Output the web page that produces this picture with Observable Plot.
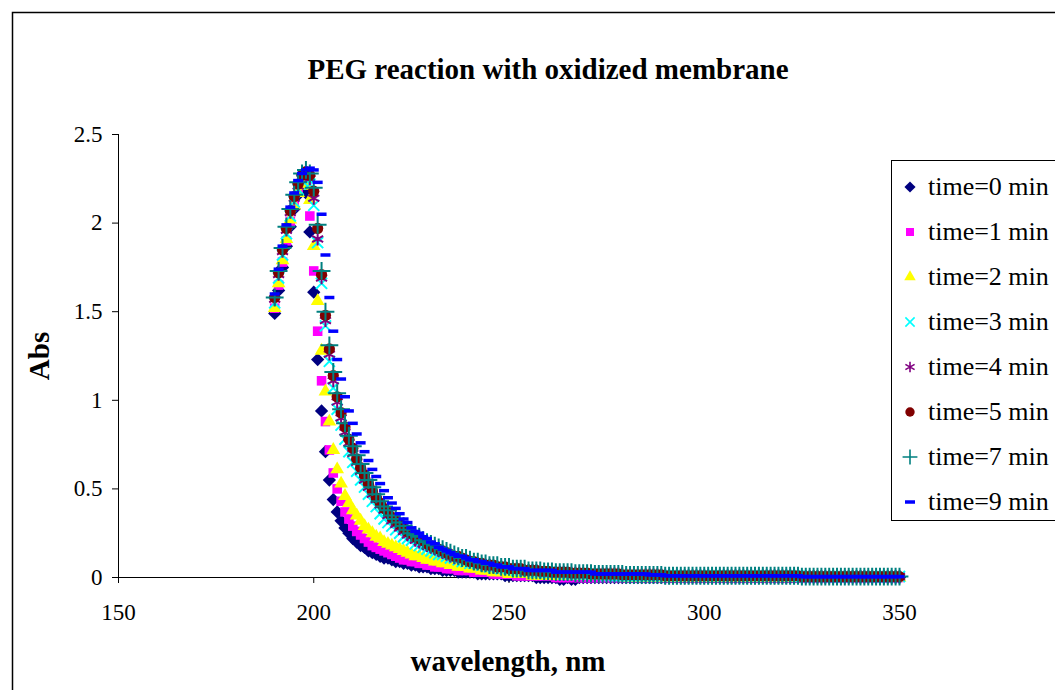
<!DOCTYPE html>
<html><head><meta charset="utf-8">
<script src="https://cdn.jsdelivr.net/npm/d3@7"></script>
<script src="https://cdn.jsdelivr.net/npm/@observablehq/plot@0.6"></script>
<style>body{margin:0;background:#fff;} svg{display:block}</style>
</head><body><div id="chart"></div>
<script>
const wavelengths = [
190,191,192,193,194,195,196,197,198,199,
200,201,202,203,204,205,206,207,208,209,
210,211,212,213,214,215,216,217,218,219,
220,221,222,223,224,225,226,227,228,229,
230,231,232,233,234,235,236,237,238,239,
240,241,242,243,244,245,246,247,248,249,
250,251,252,253,254,255,256,257,258,259,
260,261,262,263,264,265,266,267,268,269,
270,271,272,273,274,275,276,277,278,279,
280,281,282,283,284,285,286,287,288,289,
290,291,292,293,294,295,296,297,298,299,
300,301,302,303,304,305,306,307,308,309,
310,311,312,313,314,315,316,317,318,319,
320,321,322,323,324,325,326,327,328,329,
330,331,332,333,334,335,336,337,338,339,
340,341,342,343,344,345,346,347,348,349,
350];

const t0 = [
1.49,1.62,1.75,1.87,1.98,2.08,2.16,2.22,2.17,1.95,
1.61,1.23,0.94,0.71,0.55,0.44,0.37,0.32,0.28,0.25,
0.22,0.20,0.18,0.17,0.15,0.14,0.13,0.12,0.11,0.11,
0.10,0.09,0.09,0.08,0.08,0.07,0.07,0.06,0.06,0.06,
0.05,0.05,0.05,0.04,0.04,0.04,0.04,0.03,0.03,0.03,
0.03,0.03,0.02,0.02,0.02,0.02,0.02,0.02,0.02,0.01,
0.01,0.01,0.01,0.01,0.01,0.01,0.01,0,0,0,
0,0,0,-0.01,-0.01,0,-0.01,-0.01,0,0,
0,0,0,0,0,0,0,0,0,0,
0,0,0,0,0,0,0,0,0,0,
0,0,0,0,0,0,0,0,0,0,
0,0,0,0,0,0,0,0,0,0,
0,0,0,0,0,0,0,0,0,0,
0,0,0,0,0,0,0,0,0,0,
0,0,0,0,0,0,0,0,0,0,
0,0,0,0,0,0,0,0,0,0,
0];

const t1 = [
1.52,1.65,1.78,1.90,2.01,2.10,2.18,2.24,2.25,2.04,
1.73,1.39,1.11,0.88,0.72,0.59,0.50,0.43,0.37,0.33,
0.29,0.26,0.24,0.22,0.20,0.18,0.17,0.16,0.15,0.14,
0.13,0.12,0.11,0.10,0.10,0.09,0.09,0.08,0.08,0.07,
0.07,0.06,0.06,0.06,0.05,0.05,0.05,0.04,0.04,0.04,
0.04,0.03,0.03,0.03,0.03,0.03,0.02,0.02,0.02,0.02,
0.02,0.02,0.01,0.01,0.01,0.01,0.01,0.01,0.01,0.01,
0.01,0.01,0,0,0,0,0,0,0,0,
0,0,0,0,0,0,0,0,0,0,
0,0,0,0,0,0,0,0,0,0,
0,0,0,0,0,0,0,0,0,0,
0,0,0,0,0,0,0,0,0,0,
0,0,0,0,0,0,0,0,0,0,
0,0,0,0,0,0,0,0,0,0,
0,0,0,0,0,0,0,0,0,0,
0,0,0,0,0,0,0,0,0,0,
0];

const t2 = [
1.52,1.66,1.79,1.91,2.02,2.10,2.17,2.21,2.22,2.13,
1.87,1.56,1.28,1.05,0.88,0.72,0.61,0.53,0.46,0.42,
0.38,0.35,0.32,0.29,0.27,0.25,0.23,0.22,0.20,0.19,
0.18,0.17,0.16,0.15,0.14,0.13,0.12,0.12,0.11,0.10,
0.10,0.09,0.09,0.08,0.08,0.07,0.07,0.06,0.06,0.06,
0.05,0.05,0.05,0.04,0.04,0.04,0.03,0.03,0.03,0.03,
0.02,0.02,0.02,0.02,0.02,0.02,0.01,0.01,0.01,0.01,
0.01,0.01,0.01,0.01,0.01,0.01,0.01,0.01,0.01,0.01,
0.01,0.01,0.01,0.01,0.01,0.01,0.01,0.01,0.01,0.01,
0,0,0,0,0,0,0,0,0,0,
0,0,0,0,0,0,0,0,0,0,
0,0,0,0,0,0,0,0,0,0,
0,0,0,0,0,0,0,0,0,0,
0,0,0,0,0,0,0,0,0,0,
0,0,0,0,0,0,0,0,0,0,
0,0,0,0,0,0,0,0,0,0,
0];

const t3 = [
1.55,1.69,1.82,1.94,2.04,2.12,2.19,2.24,2.26,2.22,
2.10,1.89,1.66,1.42,1.22,1.07,0.95,0.86,0.78,0.71,
0.65,0.60,0.55,0.51,0.47,0.43,0.40,0.36,0.33,0.31,
0.29,0.27,0.25,0.23,0.22,0.21,0.19,0.18,0.17,0.16,
0.15,0.14,0.13,0.13,0.12,0.11,0.11,0.10,0.09,0.09,
0.08,0.08,0.08,0.07,0.07,0.06,0.06,0.06,0.05,0.05,
0.05,0.05,0.04,0.04,0.04,0.04,0.04,0.03,0.03,0.03,
0.03,0.03,0.03,0.03,0.02,0.02,0.02,0.02,0.02,0.02,
0.02,0.02,0.02,0.02,0.02,0.01,0.01,0.01,0.01,0.01,
0.01,0.01,0.01,0.01,0.01,0.01,0.01,0.01,0.01,0.01,
0.01,0.01,0.01,0.01,0.01,0.01,0.01,0.01,0.01,0.01,
0.01,0.01,0.01,0.01,0.01,0.01,0.01,0.01,0.01,0.01,
0.01,0.01,0.01,0.01,0.01,0.01,0.01,0.01,0.01,0.01,
0.01,0.01,0.01,0.01,0.01,0.005,0.005,0.005,0.005,0.005,
0.005,0.005,0.005,0.005,0.005,0.005,0.005,0.005,0.005,0.005,
0.005,0.005,0.005,0.005,0.005,0.005,0.005,0.005,0.005,0.005,
0.005];

const t4 = [
1.57,1.71,1.84,1.96,2.06,2.14,2.21,2.26,2.28,2.25,
2.14,1.91,1.69,1.45,1.26,1.11,0.99,0.90,0.82,0.76,
0.70,0.65,0.60,0.55,0.51,0.47,0.44,0.41,0.38,0.35,
0.32,0.30,0.28,0.26,0.24,0.23,0.21,0.20,0.19,0.18,
0.17,0.16,0.15,0.14,0.13,0.12,0.11,0.11,0.10,0.10,
0.09,0.08,0.08,0.07,0.07,0.07,0.06,0.06,0.06,0.05,
0.05,0.05,0.05,0.04,0.04,0.04,0.04,0.04,0.03,0.03,
0.03,0.03,0.03,0.03,0.03,0.025,0.025,0.025,0.025,0.02,
0.02,0.02,0.02,0.02,0.02,0.02,0.02,0.02,0.02,0.02,
0.015,0.015,0.015,0.015,0.015,0.015,0.015,0.015,0.015,0.015,
0.01,0.01,0.01,0.01,0.01,0.01,0.01,0.01,0.01,0.01,
0.01,0.01,0.01,0.01,0.01,0.01,0.01,0.01,0.01,0.01,
0.01,0.01,0.01,0.01,0.01,0.01,0.01,0.01,0.01,0.01,
0.01,0.01,0.01,0.01,0.01,0.005,0.005,0.005,0.005,0.005,
0.005,0.005,0.005,0.005,0.005,0.005,0.005,0.005,0.005,0.005,
0.005,0.005,0.005,0.005,0.005,0.005,0.005,0.005,0.005,0.005,
0.005];

const t5 = [
1.58,1.72,1.85,1.97,2.07,2.15,2.22,2.27,2.29,2.27,
2.18,1.97,1.71,1.48,1.29,1.14,1.02,0.93,0.85,0.78,
0.73,0.67,0.62,0.58,0.53,0.49,0.45,0.42,0.39,0.37,
0.34,0.32,0.30,0.28,0.26,0.25,0.23,0.22,0.21,0.19,
0.18,0.17,0.16,0.15,0.14,0.13,0.12,0.12,0.11,0.10,
0.09,0.09,0.08,0.08,0.07,0.07,0.07,0.06,0.06,0.06,
0.05,0.05,0.05,0.05,0.04,0.04,0.04,0.04,0.035,0.035,
0.035,0.03,0.03,0.03,0.03,0.03,0.025,0.025,0.025,0.025,
0.025,0.02,0.02,0.02,0.02,0.02,0.02,0.02,0.02,0.015,
0.015,0.015,0.015,0.015,0.015,0.015,0.015,0.015,0.015,0.015,
0.01,0.01,0.01,0.01,0.01,0.01,0.01,0.01,0.01,0.01,
0.01,0.01,0.01,0.01,0.01,0.01,0.01,0.01,0.01,0.01,
0.01,0.01,0.01,0.01,0.01,0.01,0.01,0.01,0.01,0.01,
0.01,0.01,0.01,0.01,0.01,0.005,0.005,0.005,0.005,0.005,
0.005,0.005,0.005,0.005,0.005,0.005,0.005,0.005,0.005,0.005,
0.005,0.005,0.005,0.005,0.005,0.005,0.005,0.005,0.005,0.005,
0.005];

const t7 = [
1.58,1.73,1.86,1.98,2.08,2.16,2.23,2.28,2.30,2.28,
2.20,1.99,1.73,1.50,1.31,1.16,1.04,0.95,0.87,0.80,
0.74,0.69,0.64,0.59,0.55,0.51,0.47,0.43,0.40,0.38,
0.35,0.33,0.31,0.29,0.27,0.25,0.24,0.23,0.21,0.20,
0.19,0.18,0.17,0.16,0.15,0.14,0.13,0.12,0.11,0.11,
0.10,0.09,0.09,0.08,0.08,0.07,0.07,0.07,0.06,0.06,
0.06,0.05,0.05,0.05,0.05,0.04,0.04,0.04,0.04,0.035,
0.035,0.035,0.03,0.03,0.03,0.03,0.03,0.025,0.025,0.025,
0.025,0.025,0.02,0.02,0.02,0.02,0.02,0.02,0.02,0.02,
0.015,0.015,0.015,0.015,0.015,0.015,0.015,0.015,0.015,0.015,
0.01,0.01,0.01,0.01,0.01,0.01,0.01,0.01,0.01,0.01,
0.01,0.01,0.01,0.01,0.01,0.01,0.01,0.01,0.01,0.01,
0.01,0.01,0.01,0.01,0.01,0.01,0.01,0.01,0.01,0.01,
0.01,0.01,0.01,0.01,0.01,0.005,0.005,0.005,0.005,0.005,
0.005,0.005,0.005,0.005,0.005,0.005,0.005,0.005,0.005,0.005,
0.005,0.005,0.005,0.005,0.005,0.005,0.005,0.005,0.005,0.005,
0.005];

const t9 = [
1.60,1.74,1.87,1.99,2.09,2.17,2.24,2.28,2.30,2.31,
2.30,2.23,2.05,1.82,1.58,1.39,1.23,1.12,1.02,0.94,
0.87,0.81,0.76,0.71,0.66,0.61,0.57,0.53,0.49,0.45,
0.42,0.39,0.36,0.33,0.31,0.28,0.26,0.25,0.23,0.22,
0.20,0.19,0.17,0.16,0.15,0.14,0.13,0.12,0.12,0.11,
0.10,0.10,0.09,0.09,0.08,0.08,0.07,0.07,0.06,0.06,
0.06,0.05,0.05,0.05,0.05,0.04,0.04,0.04,0.04,0.04,
0.04,0.04,0.03,0.03,0.03,0.03,0.03,0.03,0.03,0.03,
0.03,0.03,0.02,0.02,0.02,0.02,0.02,0.02,0.02,0.02,
0.02,0.02,0.02,0.02,0.02,0.02,0.015,0.015,0.015,0.015,
0.01,0.01,0.01,0.01,0.01,0.01,0.01,0.01,0.01,0.01,
0.01,0.01,0.01,0.01,0.01,0.01,0.01,0.01,0.01,0.01,
0.01,0.01,0.01,0.01,0.01,0.01,0.01,0.01,0.01,0.01,
0.01,0.01,0.01,0.01,0.01,0.005,0.005,0.005,0.005,0.005,
0.005,0.005,0.005,0.005,0.005,0.005,0.005,0.005,0.005,0.005,
0.005,0.005,0.005,0.005,0.005,0.005,0.005,0.005,0.005,0.005,
0.005];

const seriesNames = ["time=0 min","time=1 min","time=2 min","time=3 min","time=4 min","time=5 min","time=7 min","time=9 min"];
const xTicks = [150, 200, 250, 300, 350];
const yTicks = [0, 0.5, 1, 1.5, 2, 2.5];
const titleText = "PEG reaction with oxidized membrane";
const xLabel = "wavelength, nm";
const yLabel = "Abs";

const dash = {draw(ctx, size) { ctx.rect(-5, -1.75, 10, 3.5); }};

const styles = [
  {values: t0, symbol: d3.symbolSquare, rotate: 45, r: 5.3, fill: "#000080", stroke: "none"},
  {values: t1, symbol: d3.symbolSquare, rotate: 0, r: 5.4, fill: "#FF00FF", stroke: "none"},
  {values: t2, symbol: d3.symbolTriangle, rotate: 0, r: 5.1, fill: "#FFFF00", stroke: "none"},
  {values: t3, symbol: d3.symbolTimes, rotate: 0, r: 5.1, fill: "none", stroke: "#00FFFF"},
  {values: t4, symbol: d3.symbolAsterisk, rotate: 0, r: 6.0, fill: "none", stroke: "#800080"},
  {values: t5, symbol: d3.symbolCircle, rotate: 0, r: 5.6, fill: "#800000", stroke: "none"},
  {values: t7, symbol: d3.symbolPlus, rotate: 0, r: 5.8, fill: "none", stroke: "#008080"},
  {values: t9, symbol: dash, rotate: 0, r: 4.0, fill: "#0000FF", stroke: "none"}
];

const font = "'Liberation Serif', 'Times New Roman', serif";

const dotMarks = styles.map(s => Plot.dot(
  wavelengths.map((w, i) => ({w, v: s.values[i]})),
  {x: "w", y: "v", symbol: s.symbol, r: s.r, rotate: s.rotate, fill: s.fill, stroke: s.stroke, strokeWidth: 2}
));

const chart = Plot.plot({
  width: 1055, height: 690,
  marginLeft: 118, marginRight: 156, marginTop: 134, marginBottom: 113,
  style: {fontFamily: font, fontSize: "23px", color: "black", background: "white"},
  x: {domain: [150, 350]},
  y: {domain: [0, 2.5]},
  marks: [
    Plot.axisX({ticks: xTicks, tickSize: 6, tickPadding: 20, label: null, stroke: "black", fill: "black"}),
    Plot.axisY({ticks: yTicks, tickSize: 6, tickPadding: 10, label: null, tickFormat: d => String(d), stroke: "black", fill: "black"}),
    Plot.ruleY([0], {stroke: "black", strokeWidth: 1}),
    Plot.ruleX([150], {y1: 0, y2: 2.5, stroke: "black", strokeWidth: 1}),
    ...dotMarks
  ]
});

document.getElementById("chart").appendChild(chart);

const svg = d3.select(chart);
svg.append("rect").attr("x", 12.5).attr("y", 12.5).attr("width", 1100).attr("height", 700)
  .attr("fill", "none").attr("stroke", "black").attr("stroke-width", 1.5);

svg.append("text").attr("x", 548).attr("y", 79).attr("text-anchor", "middle")
  .attr("font-family", font).attr("font-weight", "bold").attr("font-size", 29).attr("fill", "black")
  .text(titleText);

svg.append("text").attr("x", 508).attr("y", 671).attr("text-anchor", "middle")
  .attr("font-family", font).attr("font-weight", "bold").attr("font-size", 29).attr("fill", "black")
  .text(xLabel);

svg.append("text").attr("transform", "translate(49,356) rotate(-90)").attr("text-anchor", "middle")
  .attr("font-family", font).attr("font-weight", "bold").attr("font-size", 29).attr("fill", "black")
  .text(yLabel);

const leg = svg.append("g");
leg.append("rect").attr("x", 891.5).attr("y", 160.5).attr("width", 200).attr("height", 360)
  .attr("fill", "white").attr("stroke", "black").attr("stroke-width", 1);
styles.forEach((s, i) => {
  const cy = 187 + 45 * i;
  leg.append("path")
    .attr("d", d3.symbol(s.symbol, Math.PI * s.r * s.r * 0.7)())
    .attr("transform", `translate(910,${cy}) rotate(${s.rotate})`)
    .attr("fill", s.fill).attr("stroke", s.stroke).attr("stroke-width", 1.6);
  leg.append("text").attr("x", 928).attr("y", cy + 8).attr("text-anchor", "start")
    .attr("font-family", font).attr("font-size", 26).attr("fill", "black")
    .text(seriesNames[i]);
});
</script>
</body></html>
